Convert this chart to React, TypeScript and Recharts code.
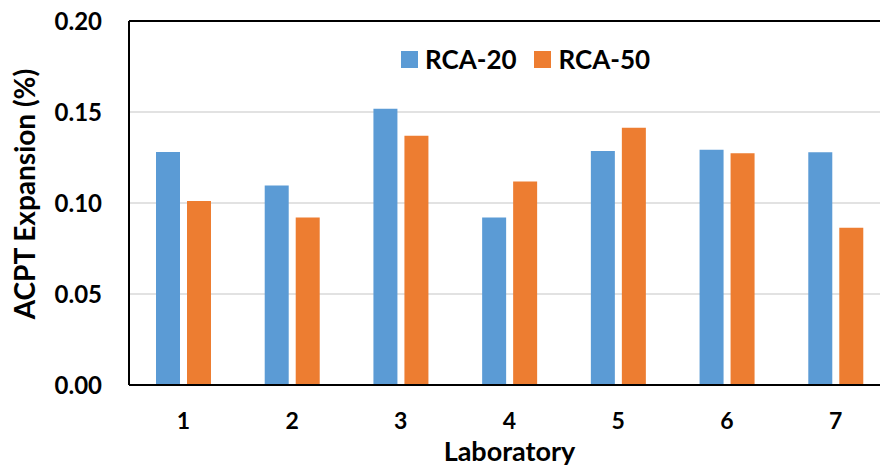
import React from 'react';
import { BarChart, Bar, XAxis, YAxis, CartesianGrid, ReferenceLine } from 'recharts';

const laboratories = ['1', '2', '3', '4', '5', '6', '7'];
const rca20 = [0.128, 0.1096, 0.1518, 0.092, 0.1286, 0.1293, 0.1279];
const rca50 = [0.1011, 0.092, 0.137, 0.1118, 0.1414, 0.1273, 0.0864];
const yTicks = [0, 0.05, 0.1, 0.15, 0.2];
const seriesNames = ['RCA-20', 'RCA-50'];
const seriesColors = ['#5B9BD5', '#ED7D31'];

const data = laboratories.map((lab, i) => ({ lab, rca20: rca20[i], rca50: rca50[i] }));

const FONT = 'Lato, "Open Sans", sans-serif';

const LegendBox = () => (
  <div style={{ position: 'absolute', top: 44, left: 401, display: 'flex', alignItems: 'center', fontFamily: FONT, fontWeight: 700, fontSize: 26, color: '#000', lineHeight: '30px' }}>
    <span style={{ width: 17, height: 17, background: seriesColors[0], display: 'inline-block', marginRight: 7 }} />
    <span style={{ marginRight: 17 }}>{seriesNames[0]}</span>
    <span style={{ width: 17, height: 17, background: seriesColors[1], display: 'inline-block', marginRight: 8 }} />
    <span>{seriesNames[1]}</span>
  </div>
);

export default function App() {
  return (
    <div style={{ position: 'absolute', left: 0, top: 0, width: 880, height: 468, overflow: 'hidden', background: '#fff' }}>
      <BarChart
        width={910}
        height={468}
        data={data}
        margin={{ top: 21, right: 20, left: 0, bottom: 23 }}
        barSize={24}
        barGap={7}
      >
        <CartesianGrid vertical={false} stroke="#d9d9d9" strokeWidth={1.5} />
        <XAxis
          dataKey="lab"
          axisLine={{ stroke: '#000', strokeWidth: 2 }}
          tickLine={false}
          tickSize={0}
          tickMargin={28}
          height={60}
          tick={{ fill: '#000', fontFamily: FONT, fontWeight: 700, fontSize: 23 }}
          label={{ value: 'Laboratory', position: 'insideBottom', offset: -16, fill: '#000', fontFamily: FONT, fontWeight: 700, fontSize: 27 }}
        />
        <YAxis
          width={129}
          domain={[0, 0.2]}
          ticks={yTicks}
          tickFormatter={(v: number) => v.toFixed(2)}
          axisLine={{ stroke: '#000', strokeWidth: 2 }}
          tickLine={false}
          tickSize={0}
          tickMargin={27}
          interval={0}
          tick={{ fill: '#000', fontFamily: FONT, fontWeight: 700, fontSize: 24 }}
          label={{ value: 'ACPT Expansion (%)', angle: -90, position: 'insideLeft', offset: 25, dy: -9, style: { textAnchor: 'middle' }, fill: '#000', fontFamily: FONT, fontWeight: 700, fontSize: 28 }}
        />
        <ReferenceLine y={0.2} stroke="#000" strokeWidth={2} />
        <Bar dataKey="rca20" name={seriesNames[0]} fill={seriesColors[0]} isAnimationActive={false} />
        <Bar dataKey="rca50" name={seriesNames[1]} fill={seriesColors[1]} isAnimationActive={false} />
      </BarChart>
      <LegendBox />
    </div>
  );
}
